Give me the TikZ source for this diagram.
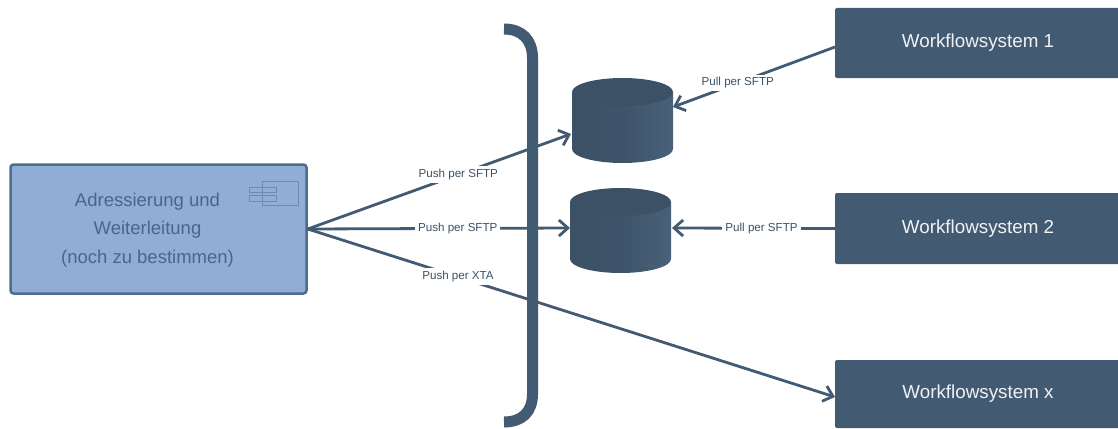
\documentclass[tikz,border=0pt]{standalone}
\usepackage{fontspec}
\setmainfont{Liberation Sans}
\usetikzlibrary{arrows.meta}
\definecolor{darkslate}{HTML}{425B73}
\definecolor{topslate}{HTML}{3C5165}
\definecolor{lightblue}{HTML}{8FADD5}
\definecolor{edgeblue}{HTML}{4F6C8A}
\definecolor{textblue}{HTML}{4A6687}
\definecolor{iconblue}{HTML}{6C8BB2}
\tikzset{workflow/.style={rectangle,rounded corners=2pt,fill=darkslate,text=white!92!darkslate,
                          minimum width=286pt,font=\fontsize{18.8}{22}\selectfont}}
\tikzset{adress/.style={rectangle,rounded corners=3pt,draw=edgeblue,line width=2.5pt,fill=lightblue,
                        minimum width=296pt,minimum height=129pt}}
\tikzset{adresstext/.style={text=textblue,align=center,font=\fontsize{18.5}{28.5}\selectfont}}
\tikzset{db/.style={rectangle,inner sep=0pt,minimum width=101pt,minimum height=85pt}}
\tikzset{conn/.style={draw=darkslate,line width=2.8pt,-{Straight Barb[length=9pt,width=16pt]}}}
\tikzset{lbl/.style={fill=white,text=topslate,inner sep=3pt,font=\fontsize{11.6}{14}\selectfont}}
\tikzset{icon/.style={draw=iconblue,line width=0.7pt}}
\newcommand{\dbsymbol}{\shade[left color=topslate,right color=darkslate!96!white,middle color=darkslate!92!black]
                        (-50.5,-28.5) -- (-50.5,28.5)
                        arc[start angle=180,end angle=360,x radius=50.5pt,y radius=14pt]
                        -- (50.5,-28.5) -- cycle;
                       \fill[topslate] (0,-28.5) ellipse[x radius=50.5pt,y radius=14pt];}
\begin{document}
\begin{tikzpicture}[x=1pt,y=-1pt]
    \useasboundingbox (0,0) rectangle (1118,428);

    % workflow systems
    \node[workflow,minimum height=70pt] (wf1) at (978,43) {Workflowsystem 1};
    \node[workflow,minimum height=71pt] (wf2) at (978,228.5) {Workflowsystem 2};
    \node[workflow,minimum height=68pt] (wfx) at (978,394) {Workflowsystem x};

    % sender
    \node[adress] (adr) at (158.5,229) {};
    \node[adresstext] (adrtext) at (147.5,230) {Adressierung und\\Weiterleitung\\(noch zu bestimmen)};
    \draw[icon] (262,181) rectangle (298,205);
    \draw[icon] (249,187) rectangle (276,192);
    \draw[icon] (249,195) rectangle (276,201);

    % bracket
    \coordinate (brtop) at (504,29);
    \coordinate (brbot) at (504,422);
    \draw[darkslate,line width=11pt] (brtop) .. controls (522,29) and (532.5,40) .. (532.5,58)
        -- (532.5,394) .. controls (532.5,412) and (522,422) .. (brbot);

    % storage
    \node[db] (db1) at (622.5,120.5) {};
       \begin{scope}[shift={(db1.center)}]
         \dbsymbol
       \end{scope}
    \node[db] (db2) at (620.5,230.5) {};
       \begin{scope}[shift={(db2.center)}]
         \dbsymbol
       \end{scope}

    % connector ends
    \coordinate (in1) at (571,134);
    \coordinate (in2) at (570,228);
    \coordinate (out1) at (835,47);
    \coordinate (back1) at (673,107);
    \coordinate (back2) at (672,228);
    \coordinate (inx) at (835,397);

    % push
    \draw[conn] (adr.east) -- node[lbl,pos=0.572] {Push per SFTP} (in1);
    \draw[conn] (adr.east) -- node[lbl,pos=0.572] {Push per SFTP} (in2);
    \draw[conn] (adr.east) -- node[lbl,pos=0.285] {Push per XTA} (inx);

    % pull
    \draw[conn] (out1) -- node[lbl,pos=0.6] {Pull per SFTP} (back1);
    \draw[conn] (wf2.west) -- node[lbl,pos=0.45] {Pull per SFTP} (back2);
\end{tikzpicture}
\end{document}
